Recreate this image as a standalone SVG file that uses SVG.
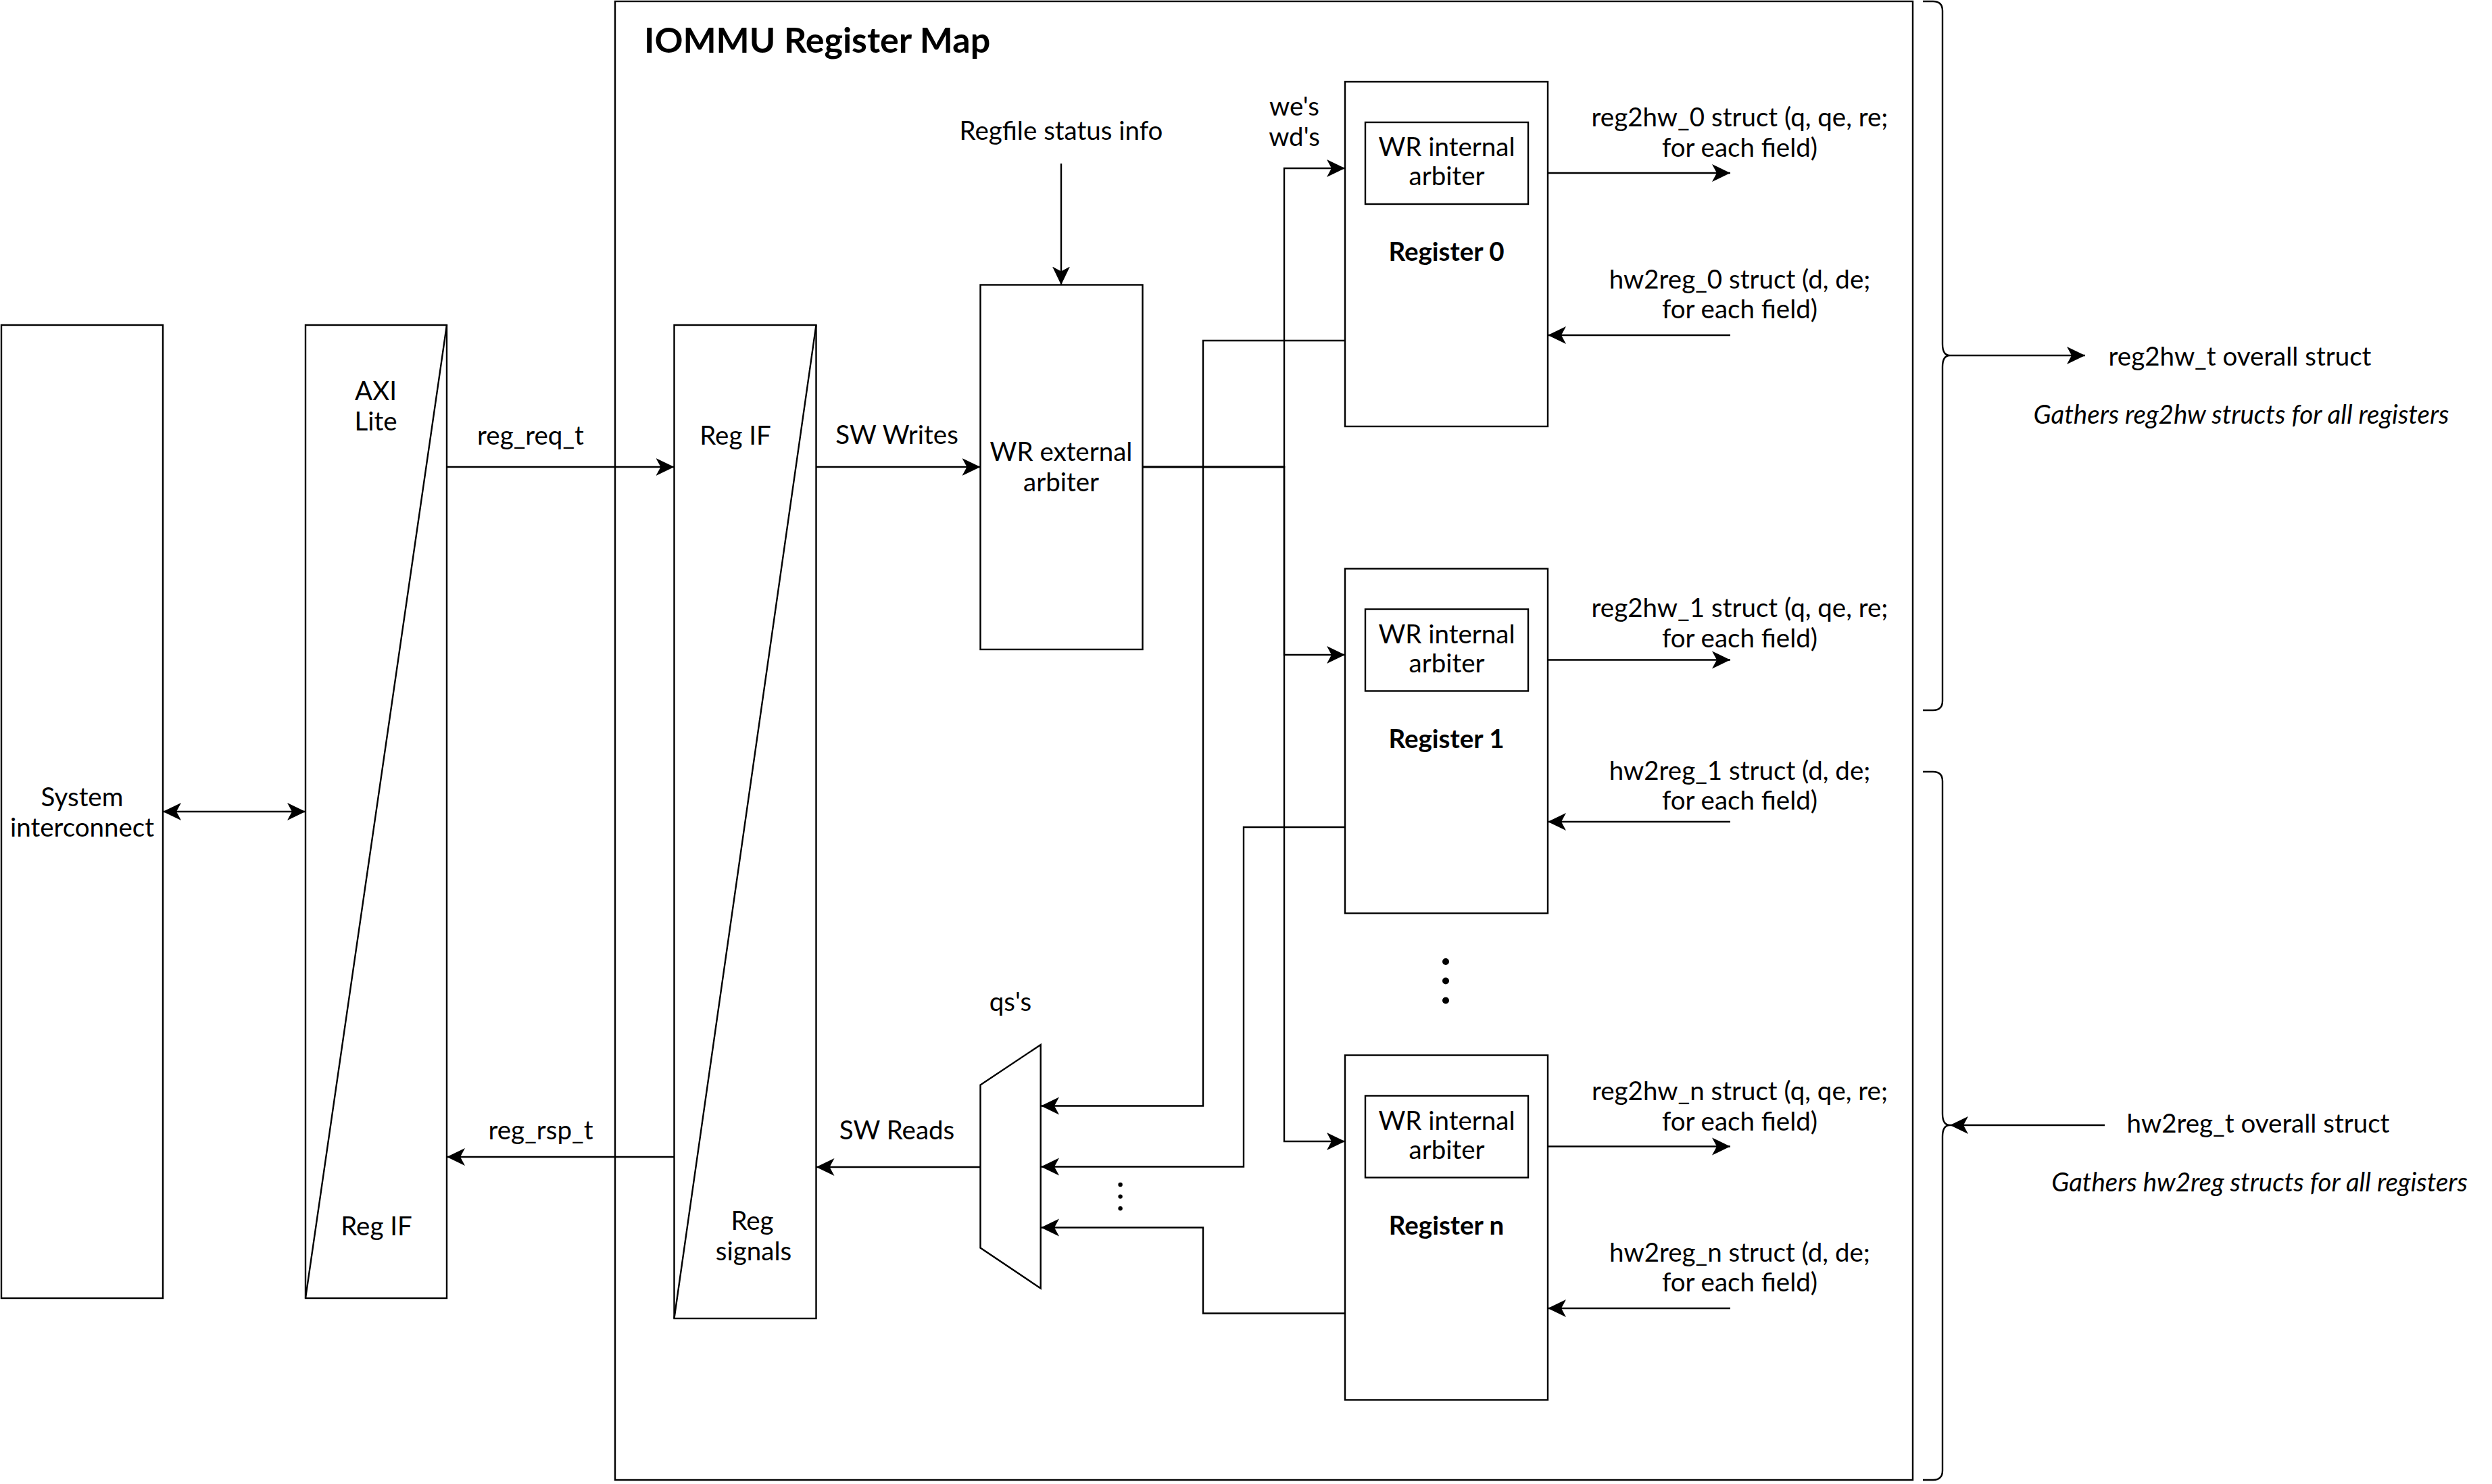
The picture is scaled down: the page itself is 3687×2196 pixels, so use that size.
<svg xmlns="http://www.w3.org/2000/svg" width="3687" height="2196" viewBox="0 0 3687 2196">
<defs>
<style>
.s{fill:none;stroke:#000;stroke-width:2.4}
.b{fill:#fff;stroke:#000;stroke-width:2.4}
.t{font-family:Lato,"Noto Sans","DejaVu Sans",sans-serif;font-size:38.5px;fill:#000;text-anchor:middle}
.bd{font-weight:bold}
.it{font-style:italic}
.a{fill:none;stroke:#000;stroke-width:2.4;marker-end:url(#ah)}
</style>
<marker id="ah" markerUnits="userSpaceOnUse" viewBox="0 -14 28 28" markerWidth="28" markerHeight="28" refX="27" refY="0" orient="auto-start-reverse">
<path d="M0,-13 L27,0 L0,13 L7,0 Z" fill="#000"/>
</marker>
</defs>
<rect width="3687" height="2196" fill="#fff"/>

<g id="container">
<rect class="s" x="910" y="2" width="1920" height="2188"/>
<text class="t bd" x="953" y="78" style="text-anchor:start;font-size:52px">IOMMU Register Map</text>
</g>

<g id="sysint">
<rect class="b" x="2" y="481" width="239" height="1440"/>
<text class="t" x="121.5" y="1193">System</text>
<text class="t" x="121.5" y="1238">interconnect</text>
</g>

<g id="axi">
<rect class="b" x="452" y="481" width="209" height="1440"/>
<line class="s" x1="661" y1="481" x2="452" y2="1921"/>
<text class="t" x="556" y="592">AXI</text>
<text class="t" x="556" y="637">Lite</text>
<text class="t" x="557" y="1828">Reg IF</text>
</g>

<g id="regif">
<rect class="b" x="997.5" y="481" width="210" height="1470"/>
<line class="s" x1="1207.5" y1="481" x2="997.5" y2="1951"/>
<text class="t" x="1088" y="658">Reg IF</text>
<text class="t" x="1113" y="1820">Reg</text>
<text class="t" x="1115" y="1865">signals</text>
</g>

<g id="wrext">
<rect class="b" x="1450.5" y="421.5" width="240" height="539.5"/>
<text class="t" x="1570" y="682">WR external</text>
<text class="t" x="1570" y="727">arbiter</text>
</g>

<g id="mux">
<polygon class="b" points="1450.5,1605.5 1539.7,1546 1539.7,1906.5 1450.5,1846.5"/>
</g>

<g id="reg0">
<rect class="b" x="1990" y="121" width="300" height="510"/>
<rect class="b" x="2020" y="181" width="241" height="121"/>
<text class="t" x="2140.5" y="231">WR internal</text>
<text class="t" x="2140.5" y="274">arbiter</text>
<text class="t bd" x="2140" y="386">Register 0</text>
</g>

<g id="reg1">
<rect class="b" x="1990" y="841.5" width="300" height="510"/>
<rect class="b" x="2020" y="901.5" width="241" height="121"/>
<text class="t" x="2140.5" y="951.5">WR internal</text>
<text class="t" x="2140.5" y="994.5">arbiter</text>
<text class="t bd" x="2140" y="1106.5">Register 1</text>
</g>

<g id="regn">
<rect class="b" x="1990" y="1561.5" width="300" height="510"/>
<rect class="b" x="2020" y="1621.5" width="241" height="121"/>
<text class="t" x="2140.5" y="1671.5">WR internal</text>
<text class="t" x="2140.5" y="1714.5">arbiter</text>
<text class="t bd" x="2140" y="1826.5">Register n</text>
</g>

<g id="dots">
<circle cx="2139" cy="1423" r="5"/>
<circle cx="2139" cy="1451.5" r="5"/>
<circle cx="2139" cy="1480.5" r="5"/>
<circle cx="1657.6" cy="1753" r="3.2"/>
<circle cx="1657.6" cy="1770.6" r="3.2"/>
<circle cx="1657.6" cy="1788.3" r="3.2"/>
</g>

<g id="brace-reg2hw">
<path class="s" d="M2845,2 H2860 Q2874,2 2874,16 V509 Q2874,526 2885,526 Q2874,526 2874,543 V1037 Q2874,1051 2860,1051 H2845"/>
</g>
<g id="brace-hw2reg">
<path class="s" d="M2845,1142 H2860 Q2874,1142 2874,1156 V1648 Q2874,1665 2885,1665 Q2874,1665 2874,1682 V2176 Q2874,2190 2860,2190 H2845"/>
</g>

<g id="labels">
<text class="t" x="785" y="658">reg_req_t</text>
<text class="t" x="800" y="1686">reg_rsp_t</text>
<text class="t" x="1327" y="657">SW Writes</text>
<text class="t" x="1327" y="1686">SW Reads</text>
<text class="t" x="1570" y="207">Regfile status info</text>
<text class="t" x="1495" y="1496">qs's</text>
<text class="t" x="1915" y="171">we's</text>
<text class="t" x="1915" y="216">wd's</text>
<text class="t" x="2574" y="187">reg2hw_0 struct (q, qe, re;</text>
<text class="t" x="2574" y="232">for each field)</text>
<text class="t" x="2574" y="427">hw2reg_0 struct (d, de;</text>
<text class="t" x="2574" y="471">for each field)</text>
<text class="t" x="2574" y="913">reg2hw_1 struct (q, qe, re;</text>
<text class="t" x="2574" y="958">for each field)</text>
<text class="t" x="2574" y="1154">hw2reg_1 struct (d, de;</text>
<text class="t" x="2574" y="1198">for each field)</text>
<text class="t" x="2574" y="1628">reg2hw_n struct (q, qe, re;</text>
<text class="t" x="2574" y="1673">for each field)</text>
<text class="t" x="2574" y="1867">hw2reg_n struct (d, de;</text>
<text class="t" x="2574" y="1911">for each field)</text>
<text class="t" x="3314" y="541">reg2hw_t overall struct</text>
<text class="t it" x="3316" y="627">Gathers reg2hw structs for all registers</text>
<text class="t" x="3341" y="1676">hw2reg_t overall struct</text>
<text class="t it" x="3343" y="1763">Gathers hw2reg structs for all registers</text>
</g>

<g id="connectors">
<line class="a" x1="241" y1="1201" x2="452" y2="1201" style="marker-start:url(#ah)"/>
<line class="a" x1="661" y1="691" x2="997.5" y2="691"/>
<line class="a" x1="997.5" y1="1712" x2="661" y2="1712"/>
<line class="a" x1="1207.5" y1="691" x2="1450.5" y2="691"/>
<line class="a" x1="1450.5" y1="1727" x2="1207.5" y2="1727"/>
<line class="a" x1="1570" y1="242" x2="1570" y2="421.5"/>
<polyline class="a" points="1690.5,691 1900,691 1900,249 1990,249"/>
<polyline class="a" points="1690.5,691 1900,691 1900,969 1990,969"/>
<polyline class="a" points="1690.5,691 1900,691 1900,1689 1990,1689"/>
<polyline class="a" points="1990,504 1780,504 1780,1636.5 1540,1636.5"/>
<polyline class="a" points="1990,1224 1840,1224 1840,1726.5 1540,1726.5"/>
<polyline class="a" points="1990,1943.5 1780,1943.5 1780,1816.5 1540,1816.5"/>
<line class="a" x1="2290" y1="256" x2="2560" y2="256"/>
<line class="a" x1="2560" y1="496" x2="2290" y2="496"/>
<line class="a" x1="2290" y1="976.5" x2="2560" y2="976.5"/>
<line class="a" x1="2560" y1="1216" x2="2290" y2="1216"/>
<line class="a" x1="2290" y1="1696.5" x2="2560" y2="1696.5"/>
<line class="a" x1="2560" y1="1936" x2="2290" y2="1936"/>
<line class="a" x1="2885" y1="526" x2="3085" y2="526"/>
<line class="a" x1="3114" y1="1665" x2="2885" y2="1665"/>
</g>
</svg>
